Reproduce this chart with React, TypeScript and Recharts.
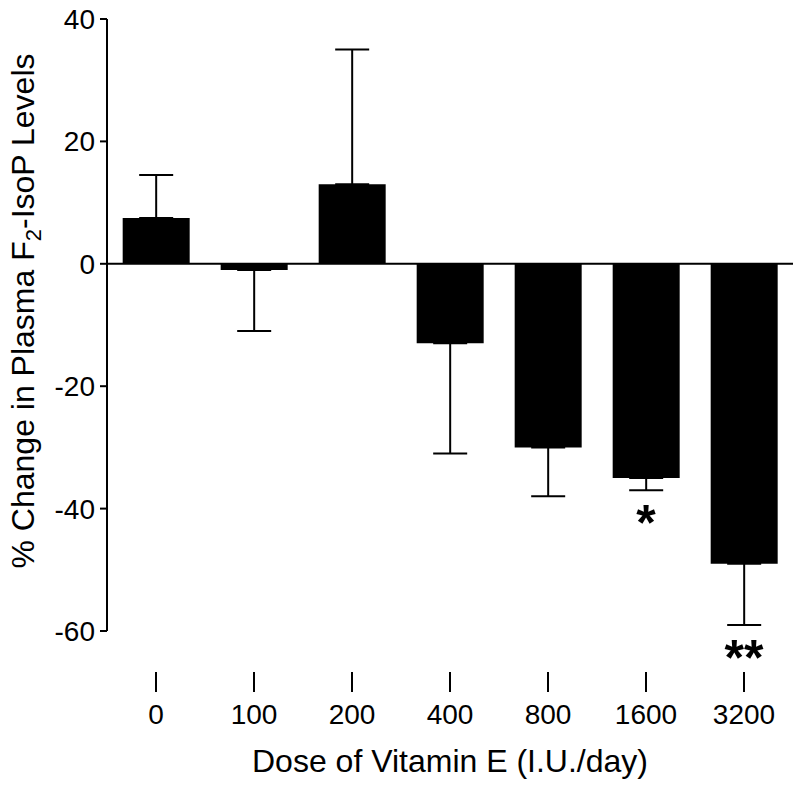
import React from 'react';
import { BarChart, Bar, XAxis, YAxis, ErrorBar, ReferenceLine, ReferenceDot } from 'recharts';

const doses = ['0', '100', '200', '400', '800', '1600', '3200'];
const meanChange = [7.5, -1, 13, -13, -30, -35, -49];
const sem = [7, 10, 22, 18, 8, 2, 10];
const significance = ['', '', '', '', '', '*', '**'];
const yTicks = [-60, -40, -20, 0, 20, 40];

const data = doses.map((d, i) => ({
  dose: d,
  change: meanChange[i],
  err: meanChange[i] >= 0 ? [0, sem[i]] : [sem[i], 0],
}));

const FONT = '"Liberation Sans", Arial, Helvetica, sans-serif';

function XTick(props: any) {
  const { x, y, payload } = props;
  return (
    <g>
      <line x1={x} x2={x} y1={y + 41} y2={y + 61} stroke="#000" strokeWidth={2} />
      <text x={x} y={y + 93} textAnchor="middle" fontSize={28} fontFamily={FONT} fill="#000">
        {payload.value}
      </text>
    </g>
  );
}

function YTitle(props: any) {
  const vb = props.viewBox || { x: 0, y: 19, width: 107, height: 612 };
  const cx = 34;
  const cy = vb.y + vb.height / 2 - 14;
  return (
    <text
      x={cx}
      y={cy}
      transform={`rotate(-90, ${cx}, ${cy})`}
      textAnchor="middle"
      fontSize={32}
      fontFamily={FONT}
      fill="#000"
    >
      % Change in Plasma F
      <tspan dy={7} fontSize={22}>2</tspan>
      <tspan dy={-7}>-IsoP Levels</tspan>
    </text>
  );
}

function XTitle(props: any) {
  const vb = props.viewBox || { x: 107, y: 631, width: 686, height: 154 };
  return (
    <text
      x={vb.x + vb.width / 2}
      y={vb.y + 141}
      textAnchor="middle"
      fontSize={32}
      fontFamily={FONT}
      fill="#000"
    >
      Dose of Vitamin E (I.U./day)
    </text>
  );
}

export default function App() {
  return (
    <div style={{ position: 'absolute', left: 0, top: 0, background: '#fff' }}>
      <BarChart
        width={800}
        height={785}
        data={data}
        margin={{ top: 19, right: 7, bottom: 0, left: 0 }}
        barCategoryGap="16%"
      >
        <XAxis
          dataKey="dose"
          height={154}
          axisLine={false}
          tickLine={false}
          tickSize={0}
          tickMargin={0}
          interval={0}
          tick={XTick}
          label={XTitle}
        />
        <YAxis
          width={107}
          domain={[-60, 40]}
          ticks={yTicks}
          interval={0}
          tickSize={7}
          tickMargin={5}
          axisLine={{ stroke: '#000', strokeWidth: 2 }}
          tickLine={{ stroke: '#000', strokeWidth: 2 }}
          tick={{ fontSize: 28, fill: '#000', fontFamily: FONT }}
          label={YTitle}
        />
        <Bar dataKey="change" fill="#000" isAnimationActive={false}>
          <ErrorBar dataKey="err" direction="y" width={17} stroke="#000" strokeWidth={2} />
        </Bar>
        <ReferenceLine y={0} stroke="#000" strokeWidth={2} />
        {doses.map((d, i) =>
          significance[i] ? (
            <ReferenceDot
              key={d}
              x={d}
              y={meanChange[i] - sem[i]}
              r={0}
              shape={(p: any) => (
                <text
                  x={p.cx}
                  y={p.cy + 50}
                  textAnchor="middle"
                  fontSize={50}
                  fontWeight="bold"
                  fontFamily={FONT}
                  fill="#000"
                >
                  {significance[i]}
                </text>
              )}
            />
          ) : null
        )}
      </BarChart>
    </div>
  );
}
